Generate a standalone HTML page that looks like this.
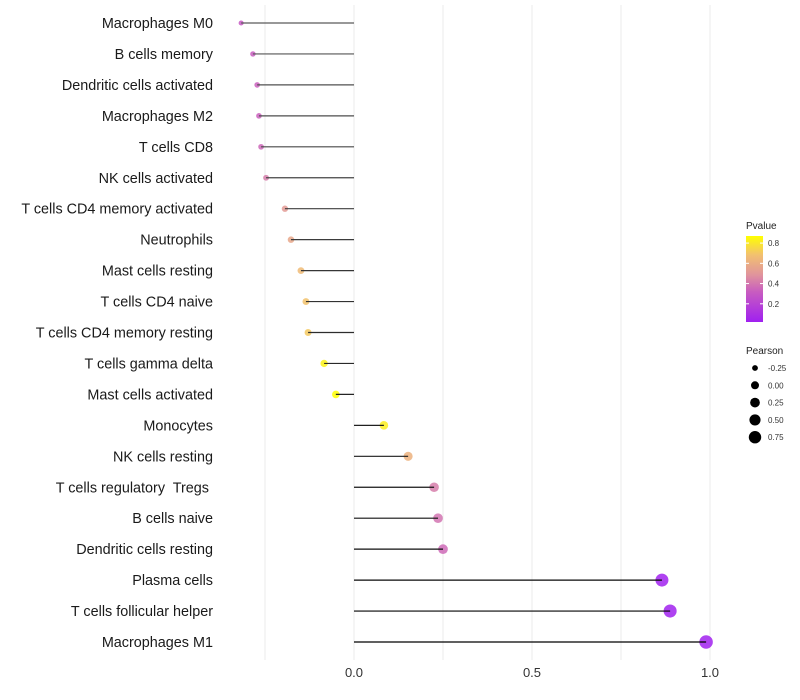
<!DOCTYPE html>
<html><head><meta charset="utf-8"><style>
body{margin:0;background:#fff;}
svg{display:block;font-family:"Liberation Sans",sans-serif;}
text{white-space:pre;}
</style></head><body>
<svg id="chart" width="800" height="700">
<defs>
<linearGradient id="pg" x1="0" y1="1" x2="0" y2="0">
<stop offset="0" stop-color="#a020f0"/><stop offset="0.35" stop-color="#c85cc0"/><stop offset="0.55" stop-color="#e0949c"/><stop offset="0.78" stop-color="#f2c070"/><stop offset="1" stop-color="#ffff00"/>
</linearGradient>
</defs>
<g id="grid"></g>
<g id="marks"></g>
<g id="labels"></g>
<g id="xaxis"></g>
<g>
<text x="746" y="229" font-size="10" fill="#222">Pvalue</text>
<rect x="746" y="236" width="17" height="86" fill="url(#pg)"/>
<g id="cticks"></g>
</g>
<g id="sizeleg">
<text x="746" y="354" font-size="10" fill="#222">Pearson</text>
</g>
</svg>
<script>
const categories=["Macrophages M0","B cells memory","Dendritic cells activated","Macrophages M2","T cells CD8","NK cells activated","T cells CD4 memory activated","Neutrophils","Mast cells resting","T cells CD4 naive","T cells CD4 memory resting","T cells gamma delta","Mast cells activated","Monocytes","NK cells resting","T cells regulatory  Tregs ","B cells naive","Dendritic cells resting","Plasma cells","T cells follicular helper","Macrophages M1"];
const pearson=[-0.317,-0.284,-0.272,-0.267,-0.261,-0.247,-0.194,-0.177,-0.149,-0.135,-0.129,-0.084,-0.051,0.084,0.152,0.225,0.236,0.25,0.865,0.888,0.989];
const pvalue=[0.3,0.32,0.33,0.33,0.35,0.42,0.52,0.57,0.66,0.69,0.71,0.83,0.87,0.82,0.62,0.42,0.39,0.36,0.03,0.03,0.03];
const xTicks=[0,0.5,1.0];
const xTickLabels=["0.0","0.5","1.0"];
const minorTicks=[-0.25,0.25,0.75];
const cTicks=[0.2,0.4,0.6,0.8];
const sizeTicks=[-0.25,0,0.25,0.5,0.75];
const NS="http://www.w3.org/2000/svg";
const X=v=>354+v*356;
const Y=i=>23+i*(619/20);
const R=v=>Math.sqrt(Math.max(2,16+30*v));
const pmin=0.02,pmax=0.87;
const stops=[[0,[160,32,240]],[0.35,[200,92,192]],[0.55,[224,148,156]],[0.78,[242,192,112]],[1,[255,255,0]]];
function col(p){let t=Math.min(1,Math.max(0,(p-pmin)/(pmax-pmin)));for(let k=1;k<stops.length;k++){if(t<=stops[k][0]){const a=stops[k-1],b=stops[k];const f=(t-a[0])/(b[0]-a[0]);const c=a[1].map((v,j)=>Math.round(v+(b[1][j]-v)*f));return `rgb(${c})`;}}return "rgb(255,255,0)";}
function mk(t,a,p){const e=document.createElementNS(NS,t);for(const k in a)e.setAttribute(k,a[k]);(p||document.getElementById('chart')).appendChild(e);return e;}
const grid=document.getElementById('grid');
minorTicks.concat(xTicks).forEach(v=>{const l=mk('line',{x1:X(v),x2:X(v),y1:5,y2:660,stroke:'#ebebeb','stroke-width':1},grid);

});
const marks=document.getElementById('marks'),labels=document.getElementById('labels');
categories.forEach((c,i)=>{const y=Y(i);const g=Math.round(90-90*i/20);
const d=mk('circle',{cx:X(pearson[i]),cy:y,r:R(pearson[i]),fill:col(pvalue[i]),'fill-opacity':0.85},marks);


const s=mk('line',{x1:X(0),x2:X(pearson[i]),y1:y,y2:y,stroke:`rgb(${g},${g},${g})`,'stroke-width':1.2},marks);


const t=mk('text',{x:213,y:y+5,'text-anchor':'end','font-size':14.4,fill:'#1a1a1a'},labels);t.textContent=c;

});
const xa=document.getElementById('xaxis');
xTicks.forEach((v,i)=>{const t=mk('text',{x:X(v),y:677,'text-anchor':'middle','font-size':13,fill:'#333'},xa);t.textContent=xTickLabels[i];

});
const ct=document.getElementById('cticks');
cTicks.forEach(v=>{const y=322-(v-pmin)/(pmax-pmin)*86;
mk('line',{x1:746,x2:749,y1:y,y2:y,stroke:'#fff','stroke-width':1},ct);mk('line',{x1:760,x2:763,y1:y,y2:y,stroke:'#fff','stroke-width':1},ct);
const t=mk('text',{x:768,y:y+3,'font-size':8,fill:'#333'},ct);t.textContent=v.toFixed(1);

});
const sl=document.getElementById('sizeleg');
sizeTicks.forEach((v,i)=>{const y=368+i*17.3;
const c=mk('circle',{cx:755,cy:y,r:R(v),fill:'#000'},sl);


const t=mk('text',{x:768,y:y+3,'font-size':8,fill:'#333'},sl);t.textContent=v.toFixed(2);

});
</script>
</body></html>
